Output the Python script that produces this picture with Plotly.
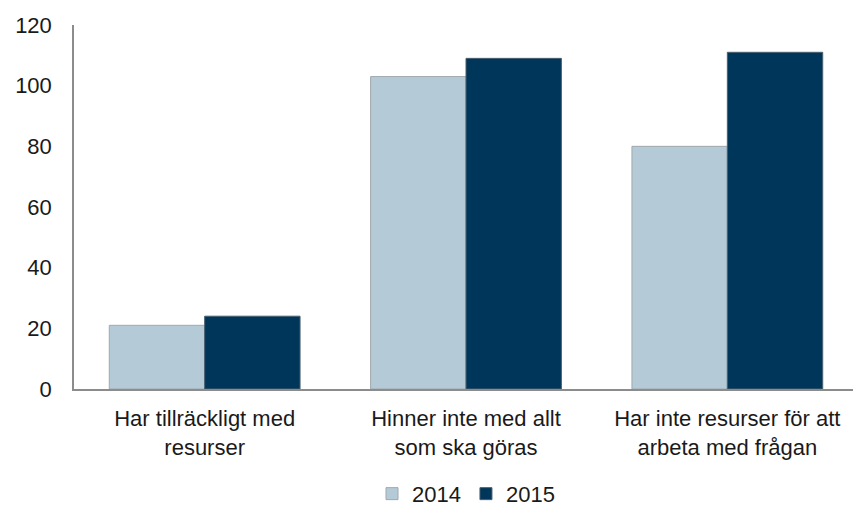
import plotly.graph_objects as go

categories = [
    "Har tillräckligt med<br>resurser",
    "Hinner inte med allt<br>som ska göras",
    "Har inte resurser för att<br>arbeta med frågan",
]
values_2014 = [21, 103, 80]
values_2015 = [24, 109, 111]
y_ticks = [0, 20, 40, 60, 80, 100, 120]

fig = go.Figure()
fig.add_trace(go.Bar(
    x=categories, y=values_2014, name="2014",
    marker=dict(color="#b4cad7", line=dict(color="#a0a8ae", width=1)),
))
fig.add_trace(go.Bar(
    x=categories, y=values_2015, name="2015",
    marker=dict(color="#003659", line=dict(color="#4a5f70", width=1)),
))

# the page body adds an 8px margin, so margins are shifted to compensate
fig.update_layout(
    width=861, height=506,
    barmode="group", bargap=0.27, bargroupgap=0,
    plot_bgcolor="white", paper_bgcolor="white",
    font=dict(family="Liberation Sans, Arial, sans-serif", size=22, color="#1a1a1a"),
    margin=dict(l=66, r=11, t=17, b=125, autoexpand=False),
    legend=dict(orientation="h", x=0.5, xanchor="center", y=-0.288, yanchor="middle",
                font=dict(size=22), traceorder="normal"),
    showlegend=True,
)
fig.update_yaxes(range=[0, 120], tickvals=y_ticks, showgrid=False, zeroline=False,
                 showline=True, linecolor="#8c8c8c", linewidth=1.5, automargin=False,
                 ticks="outside", ticklen=16, tickcolor="rgba(0,0,0,0)")
fig.update_xaxes(showline=True, linecolor="#8c8c8c", linewidth=1.5, automargin=False,
                 ticks="outside", ticklen=9, tickcolor="rgba(0,0,0,0)")

fig.write_html("out.html")
